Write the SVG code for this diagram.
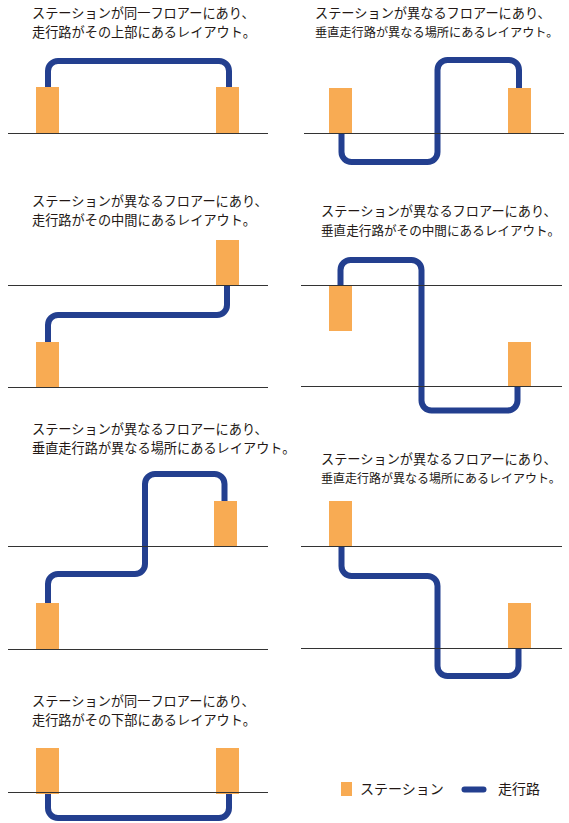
<svg xmlns="http://www.w3.org/2000/svg" width="569" height="823" viewBox="0 0 569 823">
<style>
.t{font-family:"Noto Sans CJK JP","Noto Sans",sans-serif;font-size:13.2px;fill:#231815}
.lg{font-family:"Noto Sans CJK JP","Noto Sans",sans-serif;font-size:14px;fill:#231815}
.st{fill:#F8AB53}
.tr{fill:none;stroke:#233F8F;stroke-width:6}
.gl{stroke:#333;stroke-width:1}
</style>
<rect width="569" height="823" fill="#fff"/>
<g id="connectors">
<path class="tr" d="M48,87 V71 A10,10 0 0 1 58,61 H219 A10,10 0 0 1 229,71 V87"/>
<path class="tr" d="M341.5,133 V152 A10,10 0 0 0 351.5,162 H427.5 A10,10 0 0 0 437.5,152 V70 A10,10 0 0 1 447.5,60 H509 A10,10 0 0 1 519,70 V88"/>
<path class="tr" d="M227,286 V305 A10,10 0 0 1 217,315 H58 A10,10 0 0 0 48,325 V342"/>
<path class="tr" d="M340.5,285 V270 A10,10 0 0 1 350.5,260 H411.5 A10,10 0 0 1 421.5,270 V400.5 A10,10 0 0 0 431.5,410.5 H507.5 A10,10 0 0 0 517.5,400.5 V387"/>
<path class="tr" d="M48,603 V584 A10,10 0 0 1 58,574 H135 A10,10 0 0 0 145,564 V484 A10,10 0 0 1 155,474 H214.5 A10,10 0 0 1 224.5,484 V501"/>
<path class="tr" d="M341.5,546 V566 A10,10 0 0 0 351.5,576 H427.5 A10,10 0 0 1 437.5,586 V666 A10,10 0 0 0 447.5,676 H508.5 A10,10 0 0 0 518.5,666 V648"/>
<path class="tr" d="M48,794 V808 A10,10 0 0 0 58,818 H219 A10,10 0 0 0 229,808 V794"/>
</g>
<g id="panel1">
<text class="t" x="32" y="18">ステーションが同一フロアーにあり、</text>
<text class="t" x="32" y="37">走行路がその上部にあるレイアウト。</text>
<rect class="st" x="36" y="87" width="23" height="46"/>
<rect class="st" x="216" y="87" width="23" height="46"/>
<line class="gl" x1="8" y1="133.5" x2="268" y2="133.5"/>
</g>
<g id="panel2">
<text class="t" x="315" y="18">ステーションが異なるフロアーにあり、</text>
<text class="t" x="315" y="37" style="font-size:12.2px">垂直走行路が異なる場所にあるレイアウト。</text>
<rect class="st" x="329" y="88" width="23" height="45"/>
<rect class="st" x="508" y="88" width="23" height="45"/>
<line class="gl" x1="304" y1="133.5" x2="564" y2="133.5"/>
</g>
<g id="panel3">
<text class="t" x="32" y="206">ステーションが異なるフロアーにあり、</text>
<text class="t" x="32" y="225">走行路がその中間にあるレイアウト。</text>
<rect class="st" x="216" y="240" width="23" height="46"/>
<rect class="st" x="36" y="342" width="23" height="45"/>
<line class="gl" x1="8" y1="285.5" x2="268" y2="285.5"/>
<line class="gl" x1="8" y1="387.5" x2="268" y2="387.5"/>
</g>
<g id="panel4">
<text class="t" x="321" y="216">ステーションが異なるフロアーにあり、</text>
<text class="t" x="321" y="235" style="font-size:12.6px">垂直走行路がその中間にあるレイアウト。</text>
<rect class="st" x="329" y="285" width="23" height="46"/>
<rect class="st" x="508" y="342" width="23" height="45"/>
<line class="gl" x1="301" y1="285.5" x2="562" y2="285.5"/>
<line class="gl" x1="301" y1="386.5" x2="562" y2="386.5"/>
</g>
<g id="panel5">
<text class="t" x="32" y="434">ステーションが異なるフロアーにあり、</text>
<text class="t" x="32" y="453">垂直走行路が異なる場所にあるレイアウト。</text>
<rect class="st" x="214" y="501" width="23" height="46"/>
<rect class="st" x="36" y="603" width="23" height="46"/>
<line class="gl" x1="8" y1="546.5" x2="268" y2="546.5"/>
<line class="gl" x1="8" y1="649.5" x2="268" y2="649.5"/>
</g>
<g id="panel6">
<text class="t" x="321" y="464">ステーションが異なるフロアーにあり、</text>
<text class="t" x="321" y="483" style="font-size:12px">垂直走行路が異なる場所にあるレイアウト。</text>
<rect class="st" x="329" y="501" width="23" height="45"/>
<rect class="st" x="508" y="603" width="23" height="45"/>
<line class="gl" x1="301" y1="546.5" x2="562" y2="546.5"/>
<line class="gl" x1="301" y1="648.5" x2="562" y2="648.5"/>
</g>
<g id="panel7">
<text class="t" x="32" y="706">ステーションが同一フロアーにあり、</text>
<text class="t" x="32" y="725">走行路がその下部にあるレイアウト。</text>
<rect class="st" x="36" y="748" width="23" height="46"/>
<rect class="st" x="216" y="748" width="23" height="46"/>
<line class="gl" x1="8" y1="792.5" x2="268" y2="792.5"/>
</g>
<g id="legend">
<rect class="st" x="341" y="782" width="11" height="14"/>
<text class="lg" x="360" y="794">ステーション</text>
<line x1="464.5" y1="789.5" x2="483.5" y2="789.5" stroke="#233F8F" stroke-width="6" stroke-linecap="round"/>
<text class="lg" x="498" y="794">走行路</text>
</g>
</svg>
